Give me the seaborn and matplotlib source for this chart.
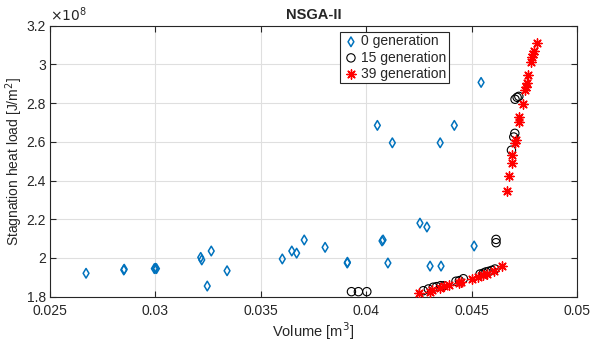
import matplotlib
matplotlib.use("Agg")
import matplotlib.pyplot as plt
import seaborn as sns
import numpy as np
import pandas as pd

# 0 generation (initial population)
gen0_vol = [0.02671, 0.02850, 0.02852, 0.02995, 0.03000, 0.03005, 0.03215, 0.03220,
            0.03265, 0.03246, 0.03340, 0.03602, 0.03647, 0.03670, 0.03706, 0.03805,
            0.03910, 0.03911, 0.04075, 0.04080, 0.04103, 0.04053, 0.04124, 0.04255,
            0.04288, 0.04303, 0.04355, 0.04351, 0.04418, 0.04512, 0.04545]
gen0_heat = [1.921, 1.938, 1.942, 1.945, 1.947, 1.945, 2.003, 1.990,
             2.036, 1.855, 1.934, 1.995, 2.036, 2.025, 2.093, 2.055,
             1.974, 1.978, 2.088, 2.093, 1.974, 2.685, 2.595, 2.180,
             2.160, 1.958, 1.958, 2.595, 2.685, 2.062, 2.907]

# 15 generation
gen15_vol = [0.03930, 0.03963, 0.04003,
             0.04271, 0.04295, 0.04318, 0.04334, 0.04353, 0.04369, 0.04426, 0.04442,
             0.04461, 0.04540, 0.04556, 0.04568, 0.04581, 0.04595, 0.04611,
             0.04616, 0.04616, 0.04689, 0.04700, 0.04705, 0.04706, 0.04716, 0.04724]
gen15_heat = [1.826, 1.826, 1.826,
              1.831, 1.840, 1.849, 1.852, 1.857, 1.857, 1.880, 1.883,
              1.893, 1.917, 1.922, 1.928, 1.931, 1.936, 1.943,
              2.096, 2.079, 2.557, 2.625, 2.644, 2.820, 2.830, 2.835]

# 39 generation
gen39_vol = [0.04252, 0.04303, 0.04311, 0.04350, 0.04369, 0.04394, 0.04439, 0.04448,
             0.04500, 0.04532, 0.04556, 0.04571, 0.04606, 0.04643,
             0.04668, 0.04679, 0.04692, 0.04693, 0.04706, 0.04709, 0.04725, 0.04726,
             0.04745, 0.04753, 0.04756, 0.04764, 0.04769, 0.04782, 0.04788, 0.04793,
             0.04796, 0.04809]
gen39_heat = [1.818, 1.823, 1.835, 1.845, 1.855, 1.859, 1.869, 1.878,
              1.891, 1.903, 1.912, 1.917, 1.933, 1.959,
              2.348, 2.423, 2.492, 2.532, 2.592, 2.609, 2.704, 2.727,
              2.795, 2.868, 2.882, 2.905, 2.944, 3.012, 3.037, 3.054,
              3.071, 3.112]

x_ticks = [0.025, 0.03, 0.035, 0.04, 0.045, 0.05]
x_labels = ["0.025", "0.03", "0.035", "0.04", "0.045", "0.05"]
y_ticks = [1.8, 2.0, 2.2, 2.4, 2.6, 2.8, 3.0, 3.2]
y_labels = ["1.8", "2", "2.2", "2.4", "2.6", "2.8", "3", "3.2"]


def main():
    sns.set_theme(style="ticks")
    plt.rcParams['font.family'] = ['Liberation Sans', 'DejaVu Sans']

    fig = plt.figure(figsize=(5.9, 3.42), dpi=100)
    ax = fig.add_axes([50 / 590, 1 - 296.7 / 342, 527 / 590, 271 / 342])

    blue = "#0072BD"
    sns.scatterplot(x=gen0_vol, y=gen0_heat, ax=ax, marker="d", s=24,
                    label="0 generation", linewidth=1.1, zorder=3)
    ax.collections[-1].set_facecolor("none")
    ax.collections[-1].set_edgecolor(blue)

    sns.scatterplot(x=gen15_vol, y=gen15_heat, ax=ax, marker="o", s=36,
                    label="15 generation", linewidth=0.8, zorder=3)
    ax.collections[-1].set_facecolor("none")
    ax.collections[-1].set_edgecolor("black")

    sns.scatterplot(x=gen39_vol, y=gen39_heat, ax=ax, marker=(8, 2, 0), s=44,
                    label="39 generation", linewidth=1.0, zorder=4)
    ax.collections[-1].set_facecolor("red")
    ax.collections[-1].set_edgecolor("red")

    ax.set_xlim(0.025, 0.05)
    ax.set_ylim(1.8, 3.2)
    ax.set_xticks(x_ticks)
    ax.set_xticklabels(x_labels)
    ax.set_yticks(y_ticks)
    ax.set_yticklabels(y_labels)

    ax.grid(True, color="#dfdfdf", linewidth=0.8, zorder=0)
    ax.set_axisbelow(True)
    for sp in ax.spines.values():
        sp.set_visible(True)
        sp.set_color("#262626")
        sp.set_linewidth(0.8)
    ax.tick_params(direction="in", top=True, right=True, length=4, width=0.8,
                   colors="#262626", labelsize=10, pad=5)
    ax.tick_params(axis="y", pad=3)

    ax.set_xlabel("Volume [m$^3$]", fontsize=10.5, color="#262626", labelpad=2)
    ax.set_ylabel("Stagnation heat load [J/m$^2$]", fontsize=10, color="#262626", labelpad=1)
    ax.set_title("NSGA-II", fontsize=10.5, fontweight="bold", pad=5)
    ax.text(0.0, 1.005, r"$\times10^{8}$", transform=ax.transAxes, ha="left", va="bottom",
            fontsize=10, color="#262626")

    leg = ax.legend(loc="upper left", bbox_to_anchor=(0.55, 0.978), frameon=True,
                    fancybox=False, framealpha=1, edgecolor="#262626", fontsize=10,
                    handletextpad=0.1, borderpad=0.2, labelspacing=0.15,
                    handlelength=1.2, borderaxespad=0)
    leg.get_frame().set_linewidth(0.8)

    fig.savefig("out.png", dpi=100)


if __name__ == '__main__':
    main()
